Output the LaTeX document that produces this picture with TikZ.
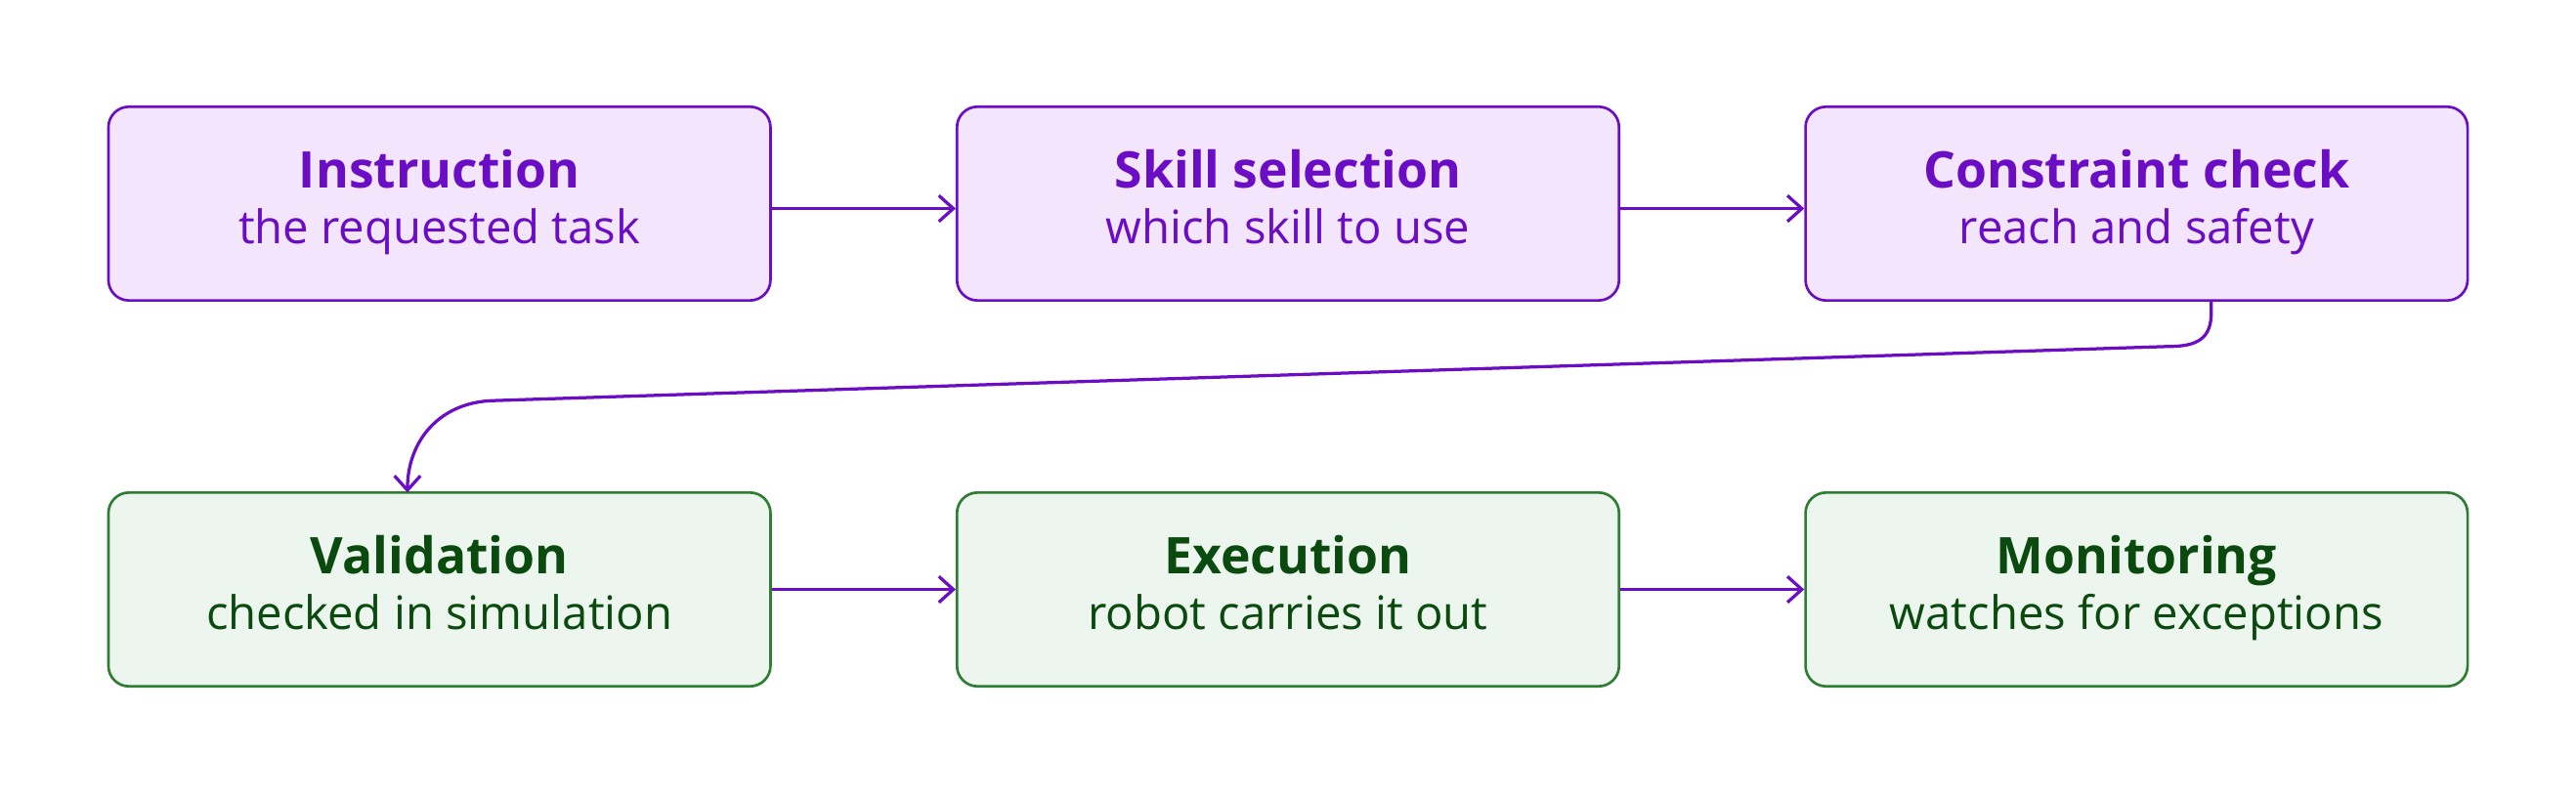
\documentclass[tikz,border=0pt]{standalone}
\usepackage{fontspec}
\setmainfont{Open Sans}
\usetikzlibrary{arrows.meta}
\definecolor{pfill}{HTML}{F3E5FC}
\definecolor{pline}{HTML}{6A0DC4}
\definecolor{gfill}{HTML}{EDF6EE}
\definecolor{gline}{HTML}{2E7D32}
\definecolor{gtext}{HTML}{0B4A0E}
\begin{document}
\begin{tikzpicture}[x=0.02cm,y=-0.02cm,
  box/.style={rectangle,rounded corners=0.25cm,minimum width=403*0.02cm,minimum height=118*0.02cm,line width=0.9pt,align=center,inner sep=0pt},
  pbox/.style={box,draw=pline,fill=pfill,text=pline},
  gbox/.style={box,draw=gline,fill=gfill,text=gtext},
  arr/.style={draw=pline,line width=1.1pt,-{Straight Barb[length=5pt,width=9pt]}}]
\useasboundingbox (0,0) rectangle (1568,484);
\newcommand{\bxt}[2]{{\fontsize{17.5}{21}\selectfont\bfseries\rule[-5pt]{0pt}{18pt}#1}\\[1pt]{\fontsize{16}{19}\selectfont\rule[-5pt]{0pt}{16pt}#2}}
\node[pbox] (a) at (267.5,124) {\bxt{Instruction}{the requested task}};
\node[pbox] (b) at (784,124) {\bxt{Skill selection}{which skill to use}};
\node[pbox] (c) at (1300.5,124) {\bxt{Constraint check}{reach and safety}};
\node[gbox] (d) at (267.5,359) {\bxt{Validation}{checked in simulation}};
\node[gbox] (e) at (784,359) {\bxt{Execution}{robot carries it out}};
\node[gbox] (f) at (1300.5,359) {\bxt{Monitoring}{watches for exceptions}};
\draw[arr] (a.east|-0,127) -- (b.west|-0,127);
\draw[arr] (b.east|-0,127) -- (c.west|-0,127);
\draw[arr] (d.east) -- (e.west);
\draw[arr] (e.east) -- (f.west);
\coordinate (k1) at (1346,183);
\coordinate (kd) at (248,300);
\draw[arr] (k1) -- (1346,190) .. controls (1346,206) and (1338,211) .. (1320,211) -- (300,244) .. controls (268,245) and (248,268) .. (kd);
\end{tikzpicture}
\end{document}
